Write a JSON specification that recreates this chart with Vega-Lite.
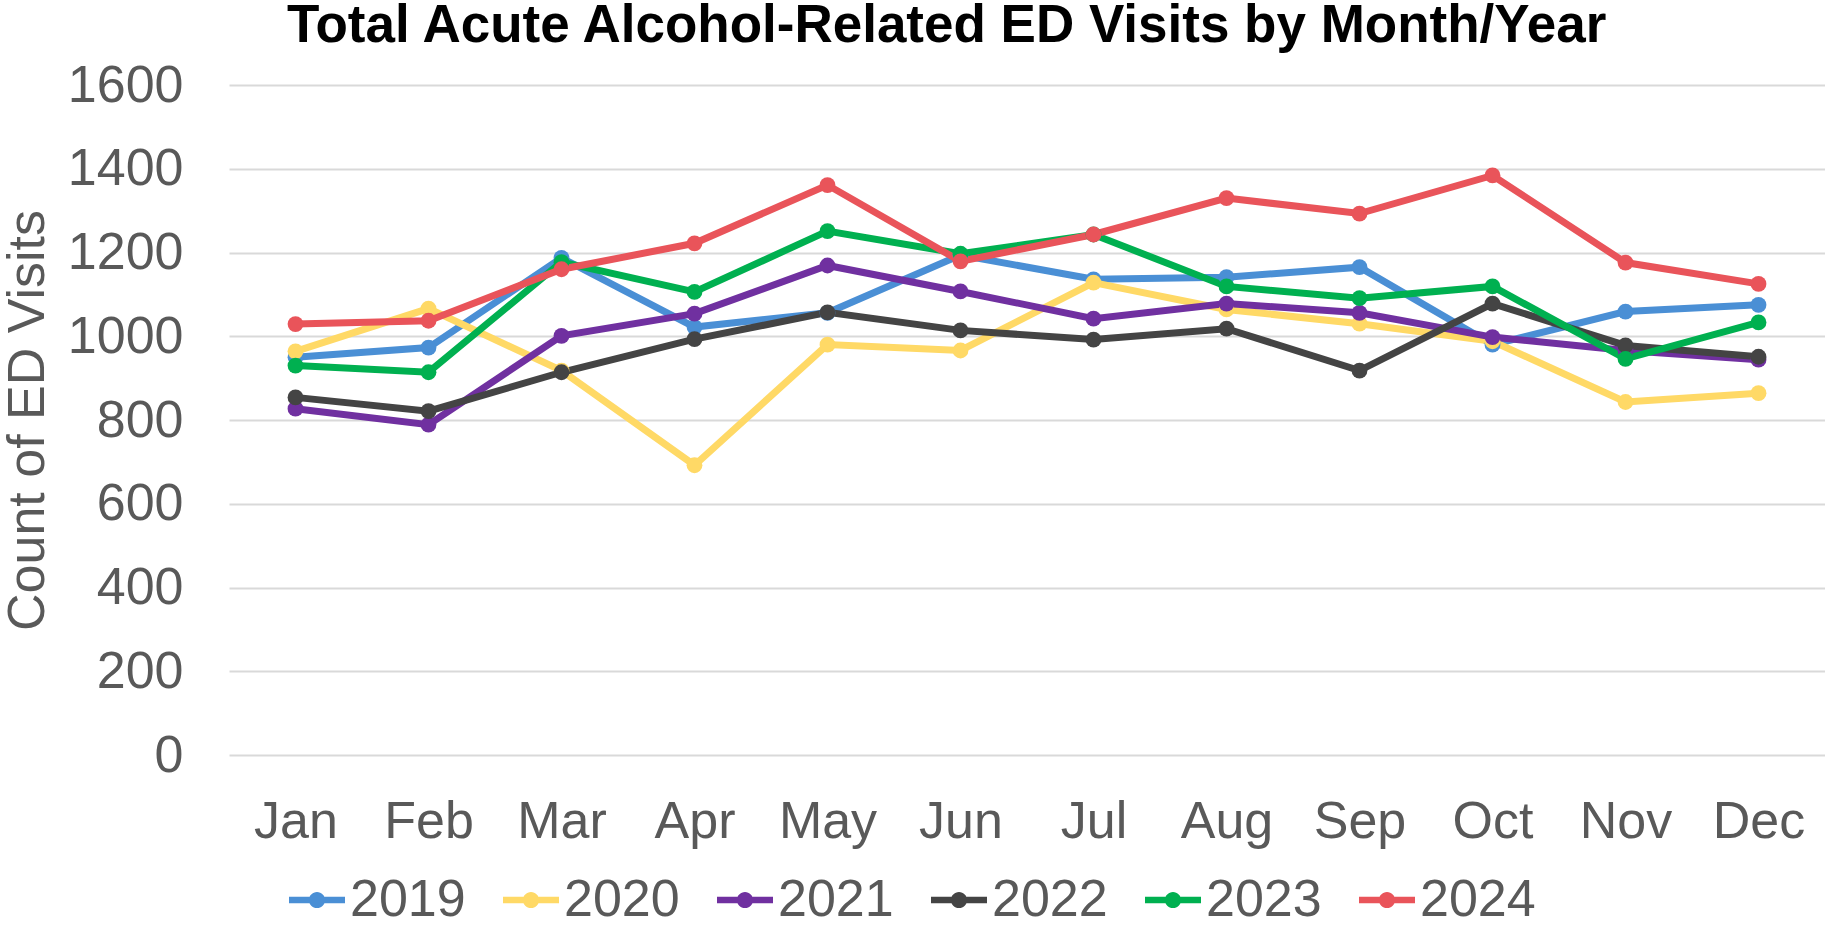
{
  "$schema": "https://vega.github.io/schema/vega-lite/v6.json",
  "autosize": "none",
  "width": 1596,
  "height": 670,
  "padding": {"left": 229, "top": 85, "right": 0, "bottom": 170},
  "background": "white",
  "title": {
    "text": "Total Acute Alcohol-Related ED Visits by Month/Year",
    "font": "Liberation Sans",
    "fontSize": 53,
    "fontWeight": "bold",
    "color": "#000000",
    "anchor": "start",
    "frame": "group",
    "dx": 58,
    "baseline": "alphabetic",
    "offset": -36
  },
  "config": {
    "view": {"stroke": null},
    "font": "Liberation Sans"
  },
  "data": {
    "values": [
      {"month": "Jan", "year": "2019", "visits": 950},
      {"month": "Feb", "year": "2019", "visits": 973},
      {"month": "Mar", "year": "2019", "visits": 1187},
      {"month": "Apr", "year": "2019", "visits": 1022},
      {"month": "May", "year": "2019", "visits": 1056},
      {"month": "Jun", "year": "2019", "visits": 1194},
      {"month": "Jul", "year": "2019", "visits": 1136},
      {"month": "Aug", "year": "2019", "visits": 1141},
      {"month": "Sep", "year": "2019", "visits": 1165},
      {"month": "Oct", "year": "2019", "visits": 980},
      {"month": "Nov", "year": "2019", "visits": 1059},
      {"month": "Dec", "year": "2019", "visits": 1075},
      {"month": "Jan", "year": "2020", "visits": 964},
      {"month": "Feb", "year": "2020", "visits": 1066},
      {"month": "Mar", "year": "2020", "visits": 918},
      {"month": "Apr", "year": "2020", "visits": 692},
      {"month": "May", "year": "2020", "visits": 980},
      {"month": "Jun", "year": "2020", "visits": 966},
      {"month": "Jul", "year": "2020", "visits": 1128},
      {"month": "Aug", "year": "2020", "visits": 1064},
      {"month": "Sep", "year": "2020", "visits": 1030},
      {"month": "Oct", "year": "2020", "visits": 988},
      {"month": "Nov", "year": "2020", "visits": 843},
      {"month": "Dec", "year": "2020", "visits": 864},
      {"month": "Jan", "year": "2021", "visits": 827},
      {"month": "Feb", "year": "2021", "visits": 789},
      {"month": "Mar", "year": "2021", "visits": 1001},
      {"month": "Apr", "year": "2021", "visits": 1054},
      {"month": "May", "year": "2021", "visits": 1169},
      {"month": "Jun", "year": "2021", "visits": 1107},
      {"month": "Jul", "year": "2021", "visits": 1042},
      {"month": "Aug", "year": "2021", "visits": 1078},
      {"month": "Sep", "year": "2021", "visits": 1056},
      {"month": "Oct", "year": "2021", "visits": 998},
      {"month": "Nov", "year": "2021", "visits": 966},
      {"month": "Dec", "year": "2021", "visits": 944},
      {"month": "Jan", "year": "2022", "visits": 854},
      {"month": "Feb", "year": "2022", "visits": 821},
      {"month": "Mar", "year": "2022", "visits": 914},
      {"month": "Apr", "year": "2022", "visits": 993},
      {"month": "May", "year": "2022", "visits": 1057},
      {"month": "Jun", "year": "2022", "visits": 1014},
      {"month": "Jul", "year": "2022", "visits": 992},
      {"month": "Aug", "year": "2022", "visits": 1018},
      {"month": "Sep", "year": "2022", "visits": 918},
      {"month": "Oct", "year": "2022", "visits": 1078},
      {"month": "Nov", "year": "2022", "visits": 978},
      {"month": "Dec", "year": "2022", "visits": 951},
      {"month": "Jan", "year": "2023", "visits": 930},
      {"month": "Feb", "year": "2023", "visits": 914},
      {"month": "Mar", "year": "2023", "visits": 1177},
      {"month": "Apr", "year": "2023", "visits": 1106},
      {"month": "May", "year": "2023", "visits": 1251},
      {"month": "Jun", "year": "2023", "visits": 1197},
      {"month": "Jul", "year": "2023", "visits": 1243},
      {"month": "Aug", "year": "2023", "visits": 1119},
      {"month": "Sep", "year": "2023", "visits": 1091},
      {"month": "Oct", "year": "2023", "visits": 1119},
      {"month": "Nov", "year": "2023", "visits": 946},
      {"month": "Dec", "year": "2023", "visits": 1033},
      {"month": "Jan", "year": "2024", "visits": 1029},
      {"month": "Feb", "year": "2024", "visits": 1037},
      {"month": "Mar", "year": "2024", "visits": 1160},
      {"month": "Apr", "year": "2024", "visits": 1222},
      {"month": "May", "year": "2024", "visits": 1361},
      {"month": "Jun", "year": "2024", "visits": 1179},
      {"month": "Jul", "year": "2024", "visits": 1243},
      {"month": "Aug", "year": "2024", "visits": 1330},
      {"month": "Sep", "year": "2024", "visits": 1293},
      {"month": "Oct", "year": "2024", "visits": 1384},
      {"month": "Nov", "year": "2024", "visits": 1176},
      {"month": "Dec", "year": "2024", "visits": 1125}
    ]
  },
  "encoding": {
    "x": {
      "field": "month",
      "type": "ordinal",
      "sort": ["Jan","Feb","Mar","Apr","May","Jun","Jul","Aug","Sep","Oct","Nov","Dec"],
      "scale": {"type": "point", "padding": 0.5},
      "axis": {
        "title": null,
        "labelAngle": 0,
        "labelFont": "Liberation Sans",
        "labelFontSize": 52,
        "labelColor": "#595959",
        "labelPadding": 41,
        "ticks": false,
        "domain": false,
        "grid": false
      }
    },
    "y": {
      "field": "visits",
      "type": "quantitative",
      "scale": {"domain": [0, 1600], "nice": false, "zero": true},
      "axis": {
        "title": "Count of ED Visits",
        "titleFont": "Liberation Sans",
        "titleFontSize": 52,
        "titleFontWeight": "normal",
        "titleColor": "#595959",
        "titlePadding": 13,
        "values": [0, 200, 400, 600, 800, 1000, 1200, 1400, 1600],
        "format": "d",
        "labelFont": "Liberation Sans",
        "labelFontSize": 52,
        "labelColor": "#595959",
        "labelPadding": 46,
        "ticks": false,
        "domain": false,
        "grid": true,
        "gridColor": "#D9D9D9",
        "gridWidth": 2
      }
    },
    "color": {
      "field": "year",
      "type": "nominal",
      "scale": {
        "domain": ["2019", "2020", "2021", "2022", "2023", "2024"],
        "range": ["#4A8FD5", "#FFD966", "#7030A0", "#444444", "#00B050", "#E9545A"]
      },
      "legend": {
        "title": null,
        "orient": "none",
        "direction": "horizontal",
        "legendX": 60,
        "legendY": 787,
        "padding": 0,
        "columnPadding": 37,
        "labelOffset": 5,
        "labelFont": "Liberation Sans",
        "labelFontSize": 52,
        "labelColor": "#595959",
        "symbolType": "M-1,-0.115H1V0.115H-1Z M0.29,0A0.29,0.29 0 1,1 -0.29,0A0.29,0.29 0 1,1 0.29,0Z",
        "symbolSize": 3136,
        "symbolStrokeWidth": 0,
        "symbolOpacity": 1
      }
    }
  },
  "layer": [
    {"mark": {"type": "line", "strokeWidth": 7}},
    {"mark": {"type": "point", "filled": true, "size": 250, "opacity": 1}}
  ]
}
